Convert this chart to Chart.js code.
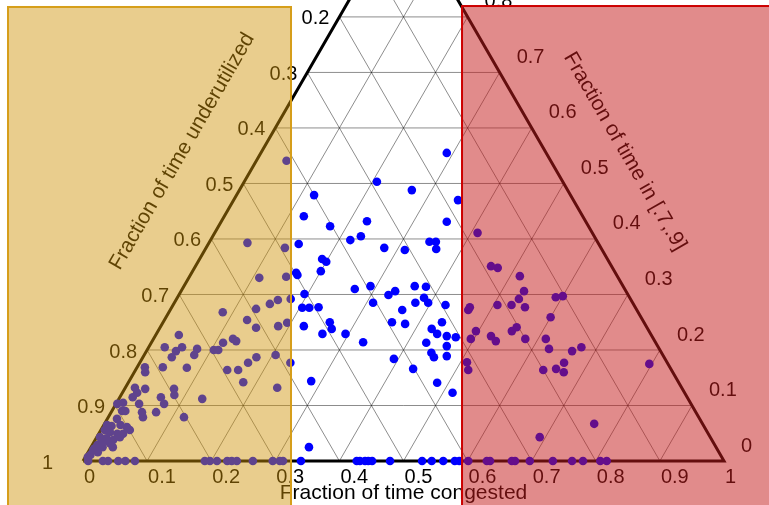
<!DOCTYPE html>
<html>
<head>
<meta charset="utf-8">
<script src="https://cdn.jsdelivr.net/npm/chart.js@4.4.1/dist/chart.umd.min.js"></script>
<style>
  html, body { margin: 0; padding: 0; background: #fff; }
  canvas { display: block; }
</style>
</head>
<body>
<canvas id="ternaryChart" width="769" height="505"></canvas>
<script>
// axis ticks (same for all three sides) and grid levels
const tickValues = [0, 0.1, 0.2, 0.3, 0.4, 0.5, 0.6, 0.7, 0.8, 0.9, 1];
const gridLevels = [0.1, 0.2, 0.3, 0.4, 0.5, 0.6, 0.7, 0.8, 0.9];

// points sitting on the bottom edge: fraction in [.7,.9] is 0
const baseCongested = [0.008, 0.031, 0.039, 0.055, 0.066, 0.081, 0.190, 0.198, 0.209, 0.225,
    0.232, 0.240, 0.265, 0.296, 0.307, 0.312, 0.340, 0.427, 0.432, 0.440, 0.445, 0.451, 0.479,
    0.529, 0.544, 0.562, 0.580, 0.587, 0.601, 0.630, 0.635, 0.669, 0.674, 0.697, 0.733, 0.763,
    0.780, 0.807, 0.817];

// the rest: fraction congested / fraction in [.7,.9]  (underutilized = 1 - both)
const congested = [
    0.290, 0.207, 0.269, 0.350, 0.121, 0.124, 0.174, 0.227, 0.352, 0.218, 0.231, 0.141, 0.343,
    0.353, 0.360, 0.278, 0.312, 0.191, 0.200, 0.163, 0.167, 0.200, 0.269, 0.291, 0.360, 0.378,
    0.327, 0.334, 0.195, 0.178, 0.310, 0.376, 0.385, 0.396, 0.425, 0.204, 0.215, 0.229, 0.362,
    0.260, 0.269, 0.223, 0.357, 0.379, 0.435, 0.425, 0.438, 0.455, 0.470, 0.259, 0.295, 0.330,
    0.429, 0.464, 0.446, 0.454, 0.473, 0.393, 0.432, 0.284, 0.482, 0.515, 0.340,
    0.047, 0.123, 0.151, 0.194, 0.235, 0.060, 0.110, 0.084, 0.133, 0.150, 0.159, 0.129, 0.150,
    0.183, 0.036, 0.025, 0.046, 0.052, 0.077, 0.045, 0.078, 0.104, 0.111, 0.112, 0.124, 0.131,
    0.012, 0.017, 0.040, 0.078, 0.143, 0.160, 0.169, 0.177, 0.205, 0.179, 0.237, 0.015, 0.032,
    0.077, 0.083, 0.020, 0.023, 0.064, 0.075, 0.130, 0.002, 0.010, 0.036, 0.016, 0.021, 0.048,
    0.054, 0.070, 0.118, 0.015,
    0.005, 0.013, 0.026, 0.038, 0.045, 0.038, 0.029, 0.016, 0.006, 0.005, 0.016, 0.028, 0.036,
    0.013, 0.008, 0.018, 0.026, 0.006, 0.015, 0.006, 0.004, 0.007, 0.034,
    0.410, 0.461, 0.473, 0.515, 0.535, 0.534, 0.528, 0.551, 0.506, 0.465, 0.465, 0.590, 0.600,
    0.600, 0.496, 0.495, 0.524, 0.536, 0.552, 0.556, 0.580, 0.612, 0.626, 0.664, 0.675, 0.510,
    0.519, 0.636, 0.655, 0.662, 0.670, 0.796, 0.691, 0.764
];
const inRange = [
    0.555, 0.503, 0.488, 0.470, 0.479, 0.441, 0.423, 0.432, 0.431, 0.398, 0.405, 0.391, 0.395,
    0.395, 0.382, 0.384, 0.380, 0.364, 0.359, 0.339, 0.335, 0.342, 0.310, 0.315, 0.315, 0.314,
    0.299, 0.306, 0.301, 0.292, 0.285, 0.285, 0.294, 0.285, 0.281, 0.276, 0.276, 0.277, 0.272,
    0.250, 0.238, 0.243, 0.250, 0.247, 0.250, 0.238, 0.229, 0.225, 0.223, 0.229, 0.229, 0.214,
    0.213, 0.207, 0.195, 0.187, 0.189, 0.184, 0.166, 0.144, 0.141, 0.123, 0.025,
    0.541, 0.384, 0.332, 0.249, 0.177, 0.393, 0.330, 0.268, 0.274, 0.283, 0.290, 0.254, 0.240,
    0.243, 0.227, 0.205, 0.198, 0.205, 0.202, 0.187, 0.191, 0.200, 0.200, 0.213, 0.220, 0.216,
    0.169, 0.160, 0.169, 0.168, 0.164, 0.164, 0.177, 0.187, 0.191, 0.142, 0.132, 0.132, 0.130,
    0.130, 0.119, 0.115, 0.123, 0.115, 0.103, 0.112, 0.103, 0.105, 0.103, 0.090, 0.090, 0.088,
    0.079, 0.088, 0.079, 0.076,
    0.065, 0.063, 0.065, 0.061, 0.056, 0.049, 0.049, 0.052, 0.056, 0.043, 0.041, 0.038, 0.043,
    0.034, 0.029, 0.025, 0.032, 0.020, 0.016, 0.011, 0.007, 0.023, 0.025,
    0.411, 0.351, 0.348, 0.333, 0.306, 0.292, 0.281, 0.277, 0.281, 0.277, 0.272, 0.295, 0.297,
    0.259, 0.234, 0.220, 0.225, 0.216, 0.234, 0.241, 0.220, 0.220, 0.202, 0.198, 0.205, 0.178,
    0.164, 0.164, 0.166, 0.177, 0.160, 0.175, 0.043, 0.067
];

const H = Math.sqrt(3) / 2;
// (congested, inRange) -> cartesian, bottom-left corner at origin
function toXY(c, m) {
    return { x: c + m / 2, y: m * H };
}
const fmt = v => String(Math.round(v * 10) / 10);

const points = baseCongested.map(c => toXY(c, 0))
    .concat(congested.map((c, i) => toXY(c, inRange[i])));

const gridColor = 'rgba(0, 0, 0, 0.45)';
const datasets = [{
    type: 'scatter',
    data: points,
    backgroundColor: '#0000ff',
    borderWidth: 0,
    pointRadius: 4.3,
    order: 0
}, {
    type: 'line',
    data: [toXY(0, 0), toXY(1, 0), toXY(0, 1), toXY(0, 0)],
    borderColor: '#000',
    borderWidth: 3,
    pointRadius: 0,
    fill: false,
    order: 1
}];
gridLevels.forEach(v => {
    [[toXY(0, v), toXY(1 - v, v)],          // fixed fraction in [.7,.9]
     [toXY(v, 0), toXY(v, 1 - v)],          // fixed congested
     [toXY(1 - v, 0), toXY(0, 1 - v)]       // fixed underutilized
    ].forEach(seg => datasets.push({
        type: 'line',
        data: seg,
        borderColor: gridColor,
        borderWidth: 1,
        pointRadius: 0,
        fill: false,
        order: 2
    }));
});

const ternaryDecor = {
    id: 'ternaryDecor',
    afterDatasetsDraw(chart) {
        const ctx = chart.ctx;
        const xs = chart.scales.x, ys = chart.scales.y;
        const px = p => xs.getPixelForValue(p.x), py = p => ys.getPixelForValue(p.y);
        ctx.save();
        ctx.fillStyle = '#000';
        ctx.textBaseline = 'middle';
        ctx.font = '20px "Liberation Sans", Arial, sans-serif';

        // bottom: congested
        ctx.textAlign = 'left';
        tickValues.forEach(v => {
            const p = toXY(v, 0);
            ctx.fillText(fmt(v), px(p) + 1, py(p) + 16);
        });
        // left: underutilized
        ctx.textAlign = 'right';
        tickValues.forEach(m => {
            const p = toXY(0, m);
            ctx.fillText(fmt(1 - m), px(p) - (m === 0 ? 30 : 10), py(p) + 2);
        });
        // right: in [.7,.9]
        ctx.textAlign = 'left';
        tickValues.forEach(m => {
            const p = toXY(1 - m, m);
            ctx.fillText(fmt(m), px(p) + 17, py(p) - 15);
        });

        // axis titles
        ctx.font = '21px "Liberation Sans", Arial, sans-serif';
        ctx.textAlign = 'center';
        const b = toXY(0.5, 0);
        ctx.fillText('Fraction of time congested', px(b), py(b) + 32);

        const l = toXY(0, 0.5);
        ctx.save();
        ctx.translate(px(l) - 61, py(l) - 32);
        ctx.rotate(-Math.PI / 3);
        ctx.fillText('Fraction of time underutilized', 0, 0);
        ctx.restore();

        const r = toXY(0.5, 0.5);
        ctx.save();
        ctx.translate(px(r) + 61, py(r) - 32);
        ctx.rotate(Math.PI / 3);
        ctx.fillText('Fraction of time in [.7,.9]', 0, 0);
        ctx.restore();
        ctx.restore();
    },
    afterDraw(chart) {
        // shaded bands laid over the whole plot
        const ctx = chart.ctx;
        const xs = chart.scales.x, ys = chart.scales.y;
        const top1 = ys.getPixelForValue(0.7083), top2 = ys.getPixelForValue(0.7098);
        const bottom = chart.height + 5;
        const tanL = xs.getPixelForValue(-0.117), tanR = xs.getPixelForValue(0.3245);
        const redL = xs.getPixelForValue(0.5913), redR = chart.width + 5;
        ctx.save();
        ctx.lineWidth = 2;
        ctx.fillStyle = 'rgba(206, 145, 7, 0.46)';
        ctx.strokeStyle = '#d69e1a';
        ctx.fillRect(tanL, top1, tanR - tanL, bottom - top1);
        ctx.strokeRect(tanL, top1, tanR - tanL, bottom - top1);
        ctx.fillStyle = 'rgba(196, 27, 27, 0.51)';
        ctx.strokeStyle = '#cc0000';
        ctx.fillRect(redL, top2, redR - redL, bottom - top2);
        ctx.strokeRect(redL, top2, redR - redL, bottom - top2);
        ctx.restore();
    }
};

new Chart(document.getElementById('ternaryChart').getContext('2d'), {
    data: { datasets: datasets },
    options: {
        responsive: false,
        animation: false,
        layout: { padding: 0, autoPadding: false },
        plugins: { legend: { display: false }, tooltip: { enabled: false } },
        scales: {
            x: { type: 'linear', display: false, min: -0.1295, max: 1.0702 },
            y: { type: 'linear', display: false, min: -0.0686, max: 0.7192 }
        }
    },
    plugins: [ternaryDecor]
});
</script>
</body>
</html>
